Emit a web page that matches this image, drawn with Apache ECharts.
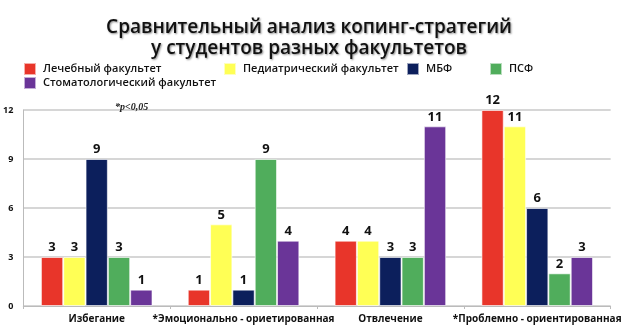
<!DOCTYPE html>
<html lang="ru">
<head>
    <meta charset="UTF-8">
    <title>Копинг-стратегии</title>
    <script src="https://cdn.jsdelivr.net/npm/echarts@6/dist/echarts.min.js"></script>
    <style>
        html, body { margin: 0; padding: 0; background: #fff; }
        #main { width: 624px; height: 333px; }
    </style>
</head>
<body>
<div id="main"></div>
<script>
    var categories = ['Избегание', '*Эмоционально - ориетированная', 'Отвлечение', '*Проблемно - ориентированная'];
    var seriesNames = ['Лечебный факультет', 'Педиатрический факультет', 'МБФ', 'ПСФ', 'Стоматологический факультет'];
    var lechebny = [3, 1, 4, 12];
    var pediatr = [3, 5, 4, 11];
    var mbf = [9, 1, 3, 6];
    var psf = [3, 9, 3, 2];
    var stomat = [1, 4, 11, 3];
    var yTicks = [0, 3, 6, 9, 12];
    var colors = ['#e8352a', '#ffff55', '#0c1f5c', '#50ad5c', '#6a3598'];

    var values = [lechebny, pediatr, mbf, psf, stomat];
    // legend positions: one legend per item so gaps match the picture
    var legendPos = [[18, 57], [218, 57], [401, 57], [484, 57], [18, 71]];

    var legends = seriesNames.map(function (n, i) {
        return {
            data: [n],
            left: legendPos[i][0],
            top: legendPos[i][1],
            itemWidth: 12,
            itemHeight: 12,
            itemGap: 0,
            icon: 'rect',
            textStyle: {fontFamily: 'Open Sans', fontSize: 11, fontWeight: 600, color: '#111', padding: [0, 0, 0, 2]}
        };
    });

    var series = seriesNames.map(function (n, i) {
        return {
            name: n,
            type: 'bar',
            data: values[i],
            barGap: '0%',
            barCategoryGap: '24%',
            itemStyle: {color: colors[i], borderColor: 'rgba(255,255,255,0.6)', borderWidth: 1},
            label: {
                show: true,
                position: 'top',
                distance: 3,
                color: '#111',
                fontFamily: 'Open Sans',
                fontWeight: 'bold',
                fontSize: 13
            }
        };
    });

    var myChart = echarts.init(document.getElementById('main'));
    var option = {
        animation: false,
        title: [
            {
                text: 'Сравнительный анализ копинг-стратегий\nу студентов разных факультетов',
                left: 304,
                top: 12,
                textAlign: 'center',
                textStyle: {
                    fontFamily: 'Open Sans',
                    fontSize: 19,
                    fontWeight: 600,
                    lineHeight: 21,
                    color: '#111',
                    textShadowColor: 'rgba(0,0,0,0.45)',
                    textShadowBlur: 2,
                    textShadowOffsetX: 1,
                    textShadowOffsetY: 1
                }
            },
            {
                text: '*p<0,05',
                left: 110,
                top: 97,
                textStyle: {fontFamily: 'Liberation Serif', fontStyle: 'italic', fontWeight: 'bold', fontSize: 10, color: '#222'}
            }
        ],
        legend: legends,
        grid: {left: 22, right: 10, top: 110, bottom: 27},
        xAxis: {
            type: 'category',
            data: categories,
            axisLine: {lineStyle: {color: '#bbb'}},
            axisTick: {show: true, lineStyle: {color: '#bbb'}, length: 3},
            axisLabel: {interval: 0, color: '#111', fontFamily: 'Open Sans', fontWeight: 'bold', fontSize: 10, margin: 8}
        },
        yAxis: {
            type: 'value',
            min: yTicks[0],
            max: yTicks[yTicks.length - 1],
            interval: 3,
            axisLine: {show: true, lineStyle: {color: '#bbb'}},
            axisTick: {show: false},
            splitLine: {lineStyle: {color: '#c8c8c8', width: 1.5}},
            axisLabel: {color: '#111', fontFamily: 'Open Sans', fontWeight: 'bold', fontSize: 9, margin: 10}
        },
        series: series
    };
    myChart.setOption(option);
</script>
</body>
</html>
